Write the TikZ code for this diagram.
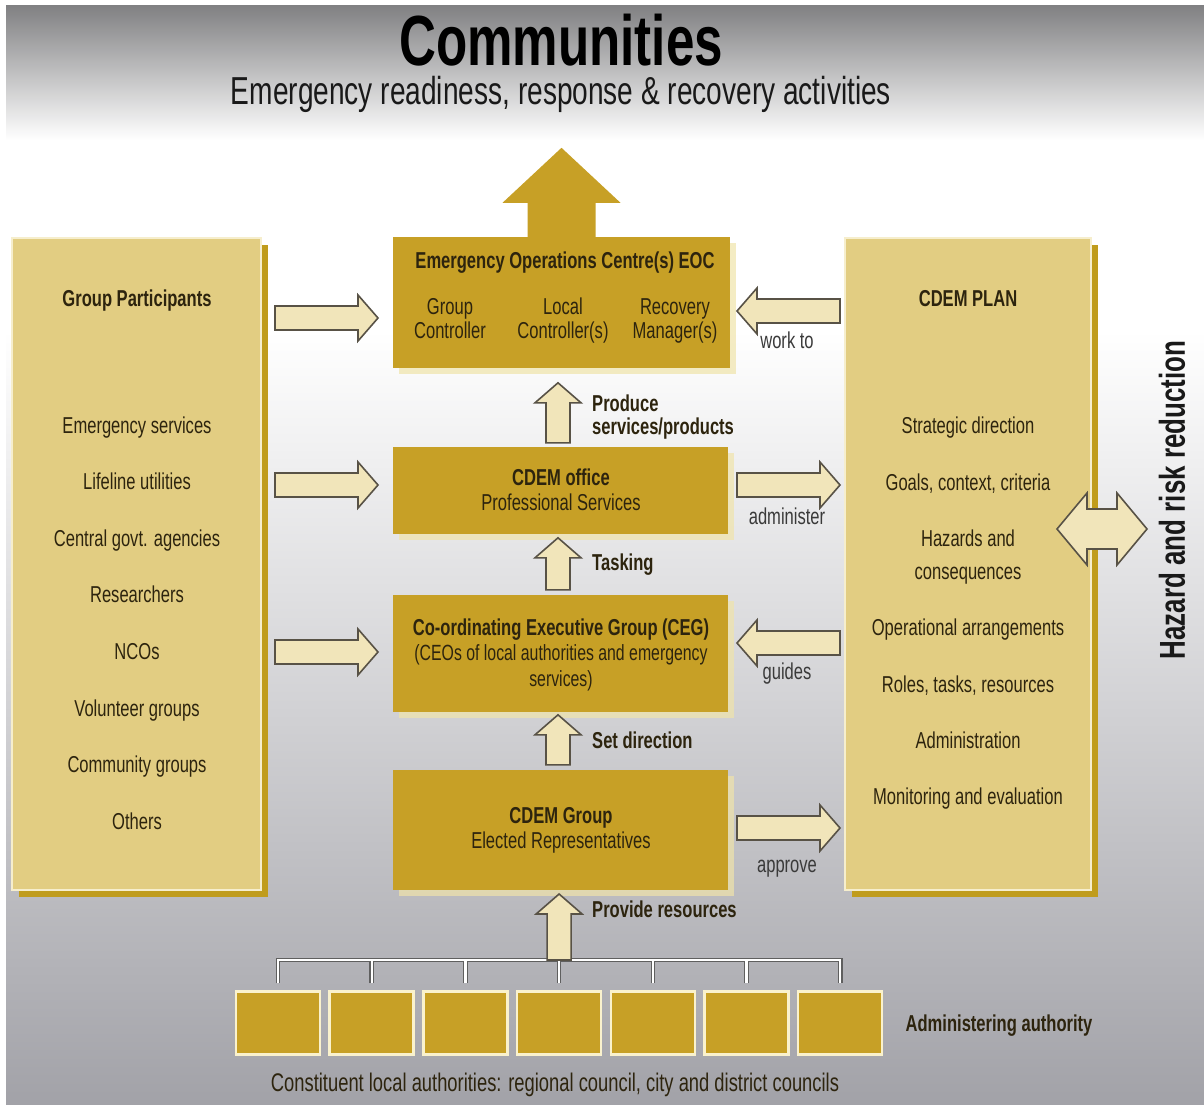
\documentclass[tikz,border=0pt]{standalone}
\usepackage{fontspec}
\setmainfont{Liberation Sans}[FakeStretch=0.72]
\usetikzlibrary{shadows,calc}

\definecolor{bgtop}{RGB}{128,128,130}
\definecolor{bgbot}{RGB}{162,162,168}
\definecolor{gold}{RGB}{199,160,38}
\definecolor{glow}{RGB}{240,228,170}
\definecolor{tan}{RGB}{226,205,130}
\definecolor{panelrim}{RGB}{246,238,205}
\definecolor{shadowgold}{RGB}{192,156,28}
\definecolor{cream}{RGB}{241,229,186}
\definecolor{arrowline}{RGB}{88,82,70}
\definecolor{ink}{RGB}{45,36,14}
\definecolor{labelink}{RGB}{58,58,58}
\definecolor{bracketdark}{RGB}{95,95,95}
\definecolor{labrim}{RGB}{250,242,205}

\tikzset{
  txt/.style={text=ink, inner sep=0pt, anchor=base, font=\fontsize{23}{27}\selectfont},
  hd/.style={txt, font=\fontsize{23}{27}\selectfont\bfseries},
  lbl/.style={txt, text=labelink},
  goldbox/.style={fill=gold, inner sep=0pt,
    drop shadow={fill=glow, shadow xshift=6pt, shadow yshift=-6pt, opacity=0.7}},
  panel/.style={fill=tan, draw=panelrim, line width=2pt, inner sep=0pt,
    drop shadow={fill=shadowgold, shadow xshift=7pt, shadow yshift=-7pt, opacity=1}},
  labbox/.style={fill=gold, draw=labrim, line width=2.5pt, inner sep=0pt,
    minimum width=84pt, minimum height=63pt},
  arrowbody/.style={fill=cream, draw=arrowline, line width=1.6pt, line join=miter},
  pics/fatarrow/.style={code={
    \draw[arrowbody] (0,-12) -- ({#1-20},-12) -- ({#1-20},-23) -- (#1,0)
      -- ({#1-20},23) -- ({#1-20},12) -- (0,12) -- cycle;}},
}

\begin{document}
\begin{tikzpicture}[x=1pt,y=-1pt]
\useasboundingbox (0,0) rectangle (1204,1104);

% background
\fill[white] (0,0) rectangle (1204,1104);
\shade[top color=bgtop, bottom color=white] (6,5) rectangle (1204,140);
\shade[top color=white, bottom color=bgbot] (6,330) rectangle (1204,1104);

% heading
\node[txt, text=black, font=\fontsize{71}{80}\selectfont\bfseries] (title) at (561,65) {Communities};
\node[txt, text=black!90, font=\fontsize{39}{44}\selectfont] (subtitle) at (561,104)
  {Emergency readiness, response \& recovery activities};

% side panels
\node[panel, minimum width=249pt, minimum height=652pt] (gp) at (136.5,564) {};
\node[panel, minimum width=246pt, minimum height=652pt] (plan) at (968,564) {};

% central column
\node[goldbox, minimum width=337pt, minimum height=131pt] (eoc) at (561.5,302.5) {};
\node[goldbox, minimum width=335pt, minimum height=87pt] (office) at (560.5,490.5) {};
\node[goldbox, minimum width=335pt, minimum height=117pt] (ceg) at (560.5,653.5) {};
\node[goldbox, minimum width=335pt, minimum height=120pt] (grp) at (560.5,830) {};

% arrow out to the communities
\fill[gold] (eoc.north) ++(-34,0) -- ++(0,-34) -- ++(-25,0) -- ++(59,-55)
  -- ++(59,55) -- ++(-25,0) -- ++(0,34) -- cycle;

% EOC text
\node[hd] (eoct) at (565,268) {Emergency Operations Centre(s) EOC};
\node[txt, align=center, font=\fontsize{23}{24}\selectfont] (gc) at (450,338) {Group\\Controller};
\node[txt, align=center, font=\fontsize{23}{24}\selectfont] (lc) at (563,338) {Local\\Controller(s)};
\node[txt, align=center, font=\fontsize{23}{24}\selectfont] (rm) at (675,338) {Recovery\\Manager(s)};

% CDEM office text
\node[hd] (offt) at (561,485) {CDEM office};
\node[txt] (offs) at (561,510) {Professional Services};

% CEG text
\node[hd] (cegt) at (561,635) {Co-ordinating Executive Group (CEG)};
\node[txt, font=\fontsize{22}{26}\selectfont] (cegs) at (561,660) {(CEOs of local authorities and emergency};
\node[txt, font=\fontsize{22}{26}\selectfont] (cegs2) at (561,686) {services)};

% CDEM Group text
\node[hd] (grpt) at (561,823) {CDEM Group};
\node[txt] (grps) at (561,848) {Elected Representatives};

% group participants list
\node[hd] (gph) at (137,306) {Group Participants};
\foreach \t [count=\k] in {Emergency services, Lifeline utilities, Central govt. agencies,
    Researchers, NCOs, Volunteer groups, Community groups, Others}
  \node[txt] (gp\k) at (137,{433+(\k-1)*56.6}) {\t};

% plan contents
\node[hd] (planh) at (968,306) {CDEM PLAN};
\node[txt] (pl1) at (968,433) {Strategic direction};
\node[txt] (pl2) at (968,490) {Goals, context, criteria};
\node[txt] (pl3) at (968,546) {Hazards and};
\node[txt] (pl3b) at (968,579) {consequences};
\node[txt] (pl4) at (968,635) {Operational arrangements};
\node[txt] (pl5) at (968,692) {Roles, tasks, resources};
\node[txt] (pl6) at (968,748) {Administration};
\node[txt] (pl7) at (968,804) {Monitoring and evaluation};

% participants feed the central bodies
\pic at (275,318) {fatarrow=103};
\pic at (275,485) {fatarrow=103};
\pic at (275,652) {fatarrow=103};

% plan relations
\pic[rotate=180] at (840,311) {fatarrow=103};
\pic at (737,485) {fatarrow=103};
\pic[rotate=180] at (840,643) {fatarrow=103};
\pic at (737,828) {fatarrow=103};
\node[lbl] (workto) at (787,348) {work to};
\node[lbl] (admin) at (787,524) {administer};
\node[lbl] (guides) at (787,679) {guides};
\node[lbl] (approve) at (787,872) {approve};

% upward flow in the central column
\pic[rotate=90] at ([xshift=-2.5pt,yshift=4pt]office.north) {fatarrow=60};
\pic[rotate=90] at ([xshift=-2.5pt,yshift=5pt]ceg.north) {fatarrow=52};
\pic[rotate=90] at ([xshift=-2.5pt,yshift=5pt]grp.north) {fatarrow=50};
\node[hd, anchor=base west] (prod) at (592,411) {Produce};
\node[hd, anchor=base west] (prod2) at (592,434) {services/products};
\node[hd, anchor=base west] (task) at (592,570) {Tasking};
\node[hd, anchor=base west] (setdir) at (592,748) {Set direction};
\node[hd, anchor=base west] (provide) at (592,917) {Provide resources};

% hazard and risk reduction
\draw[arrowbody] (1057,529) -- (1087,493) -- (1087,509) -- (1117,509) -- (1117,493)
  -- (1147,529) -- (1117,565) -- (1117,549) -- (1087,549) -- (1087,565) -- cycle;
\node[text=black!90, inner sep=0pt, rotate=90, font=\fontsize{36}{40}\selectfont\bfseries]
  (hrr) at (1172,500) {Hazard and risk reduction};

% constituent local authorities
\foreach \i in {1,...,7}
  \node[labbox] (la\i) at ({278+(\i-1)*93.7},1023) {};
\coordinate (bus) at (559,960);
\foreach \w/\c in {4.6pt/bracketdark, 2.2pt/white} {
  \draw[line width=\w, draw=\c] ([yshift=7pt]la1.north) -- (la1.north |- bus)
    -- (la7.north |- bus) -- ([yshift=7pt]la7.north);
  \foreach \i in {2,...,6}
    \draw[line width=\w, draw=\c] ([yshift=7pt]la\i.north) -- (la\i.north |- bus);
}
\pic[rotate=90] at (la4.north |- bus) {fatarrow=66};
\node[hd] (adm) at (999,1031) {Administering authority};
\node[txt, font=\fontsize{25.5}{28}\selectfont] (const) at (555,1091) {Constituent local authorities: regional council, city and district councils};

\end{tikzpicture}
\end{document}
